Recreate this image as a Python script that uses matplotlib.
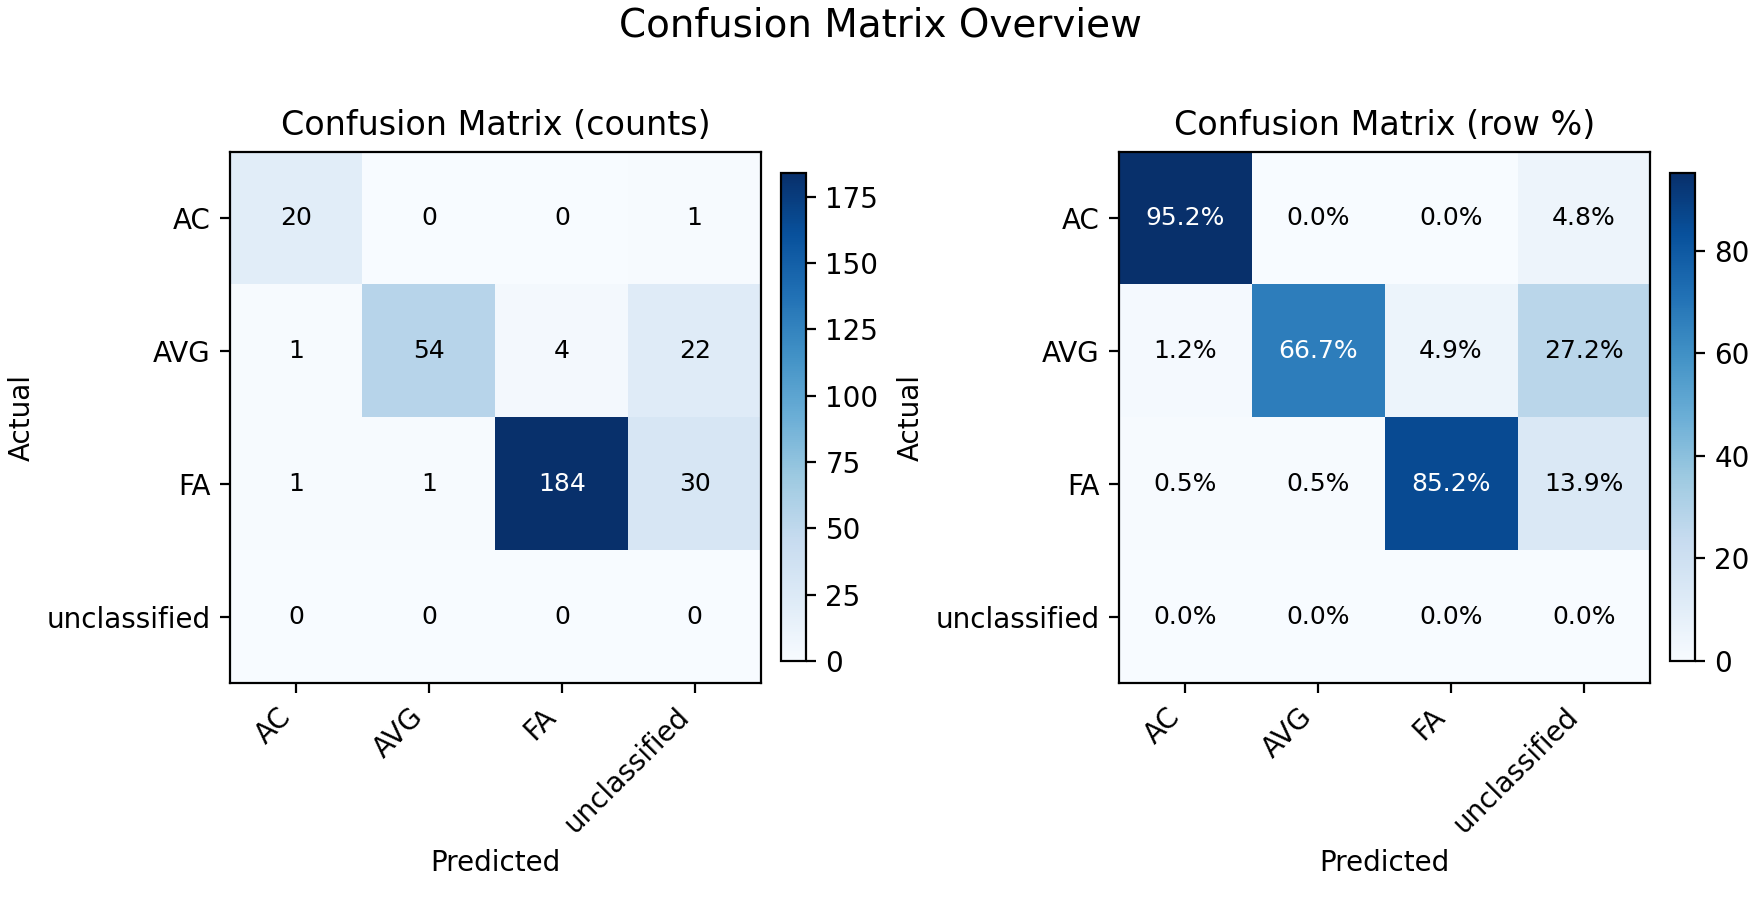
import matplotlib
matplotlib.use("Agg")
import matplotlib.pyplot as plt
import numpy as np

labels = ["AC", "AVG", "FA", "unclassified"]
counts = [[20, 0, 0, 1],
          [1, 54, 4, 22],
          [1, 1, 184, 30],
          [0, 0, 0, 0]]
row_pct = [[95.2, 0.0, 0.0, 4.8],
           [1.2, 66.7, 4.9, 27.2],
           [0.5, 0.5, 85.2, 13.9],
           [0.0, 0.0, 0.0, 0.0]]

W, H = 1760, 900
DPI = 200
fig = plt.figure(figsize=(W / DPI, H / DPI), dpi=DPI)

def px(l, t, w, h):
    return [l / W, 1 - (t + h) / H, w / W, h / H]

ax1 = fig.add_axes(px(230, 152, 531, 531))
cax1 = fig.add_axes(px(781, 173, 25, 488))
ax2 = fig.add_axes(px(1119, 152, 531, 531))
cax2 = fig.add_axes(px(1670, 173, 25, 488))

def draw(ax, cax, data, title, fmt):
    arr = np.array(data, dtype=float)
    im = ax.imshow(arr, cmap="Blues", interpolation="nearest", aspect="auto")
    cb = fig.colorbar(im, cax=cax)
    cb.ax.tick_params(labelsize=10)
    ax.set_title(title, fontsize=12)
    ax.set_xticks(range(len(labels)))
    ax.set_yticks(range(len(labels)))
    ax.set_xticklabels(labels, rotation=45, ha="right", fontsize=10)
    ax.set_yticklabels(labels, fontsize=10)
    ax.set_xlabel("Predicted", fontsize=10)
    ax.set_ylabel("Actual", fontsize=10)
    thresh = arr.max() / 2.0
    for i in range(arr.shape[0]):
        for j in range(arr.shape[1]):
            ax.text(j, i, fmt(arr[i, j]), ha="center", va="center",
                    color="white" if arr[i, j] > thresh else "black", fontsize=9)

draw(ax1, cax1, counts, "Confusion Matrix (counts)", lambda v: f"{int(v)}")
draw(ax2, cax2, row_pct, "Confusion Matrix (row %)", lambda v: f"{v:.1f}%")

fig.suptitle("Confusion Matrix Overview", fontsize=14, y=0.972, va="center")
fig.savefig("out.png", dpi=DPI)
